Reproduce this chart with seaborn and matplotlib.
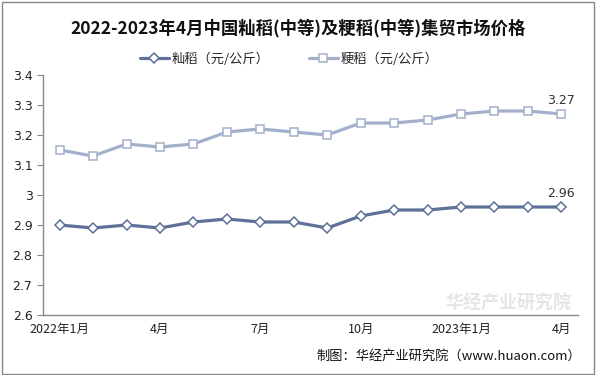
import pandas as pd
import numpy as np
import matplotlib.pyplot as plt
import seaborn as sns

months = ['2022年1月', '2月', '3月', '4月', '5月', '6月', '7月', '8月', '9月',
          '10月', '11月', '12月', '2023年1月', '2月', '3月', '4月']
xian = [2.90, 2.89, 2.90, 2.89, 2.91, 2.92, 2.91, 2.91, 2.89, 2.93, 2.95, 2.95, 2.96, 2.96, 2.96, 2.96]
geng = [3.15, 3.13, 3.17, 3.16, 3.17, 3.21, 3.22, 3.21, 3.20, 3.24, 3.24, 3.25, 3.27, 3.28, 3.28, 3.27]
names = ['籼稻（元/公斤）', '粳稻（元/公斤）']
colors = ['#5E7198', '#A3B0CC']

df = pd.DataFrame({'idx': list(range(len(months))) * 2,
                   'price': xian + geng,
                   'kind': [names[0]] * len(months) + [names[1]] * len(months)})

sns.set_style('white')
plt.rcParams['font.family'] = ['Noto Sans CJK SC', 'DejaVu Sans']

fig = plt.figure(figsize=(5.96, 3.75), dpi=100)
ax = fig.add_axes([0.072, 0.16, 0.898, 0.64])

for name, col, mk in zip(names, colors, ['D', 's']):
    sub = df[df.kind == name]
    sns.lineplot(data=sub, x='idx', y='price', ax=ax, color=col, lw=2.3,
                 marker=mk, markersize=6 if mk == 's' else 5.5, markerfacecolor='white',
                 markeredgecolor=col, markeredgewidth=1.1, label=name)

ax.text(15, xian[-1] + 0.025, f'{xian[-1]:.2f}', ha='center', va='bottom', fontsize=9, color='#333333', family='DejaVu Sans')
ax.text(15, geng[-1] + 0.025, f'{geng[-1]:.2f}', ha='center', va='bottom', fontsize=9, color='#333333', family='DejaVu Sans')

ax.set_xlim(-0.5, len(months) - 0.5)
ax.set_ylim(2.6, 3.4)
ax.set_yticks(np.arange(2.6, 3.41, 0.1))
ax.set_yticklabels(['2.6', '2.7', '2.8', '2.9', '3', '3.1', '3.2', '3.3', '3.4'], family='DejaVu Sans')
show = [0, 3, 6, 9, 12, 15]
ax.set_xticks(show)
ax.set_xticklabels([months[i] for i in show])
ax.set_xticks(np.arange(-0.5, len(months)), minor=True)
ax.tick_params(axis='x', which='major', length=0, pad=6, labelsize=9, colors='#222222')
ax.tick_params(axis='x', which='minor', length=4, color='#888888', direction='out')
ax.tick_params(axis='y', length=4, color='#888888', direction='out', labelsize=9, colors='#222222', left=True)
ax.set_xlabel('')
ax.set_ylabel('')
for s in ['top', 'right']:
    ax.spines[s].set_visible(False)
for s in ['left', 'bottom']:
    ax.spines[s].set_color('#888888')
    ax.spines[s].set_linewidth(1)

leg = ax.legend(loc='lower center', bbox_to_anchor=(0.46, 1.0), ncol=2, frameon=False,
                fontsize=9.5, handlelength=2.2, columnspacing=3, handletextpad=0.2, borderaxespad=0.3)

fig.text(0.5, 0.925, '2022-2023年4月中国籼稻(中等)及粳稻(中等)集贸市场价格', ha='center', va='center',
         fontsize=12.5, fontweight='bold', color='#111111')
fig.text(0.975, 0.05, '制图：华经产业研究院（www.huaon.com）', ha='right', va='center', fontsize=9.5, color='#111111')
ax.text(0.87, 0.05, '华经产业研究院', transform=ax.transAxes, ha='center', va='center',
        fontsize=13, color='#d5d5d5', alpha=0.6, fontweight='bold')

fig.patches.append(plt.Rectangle((0.003, 0.004), 0.994, 0.992, transform=fig.transFigure,
                                 fill=False, edgecolor='#888888', lw=1))

fig.savefig('out.png', dpi=100)
